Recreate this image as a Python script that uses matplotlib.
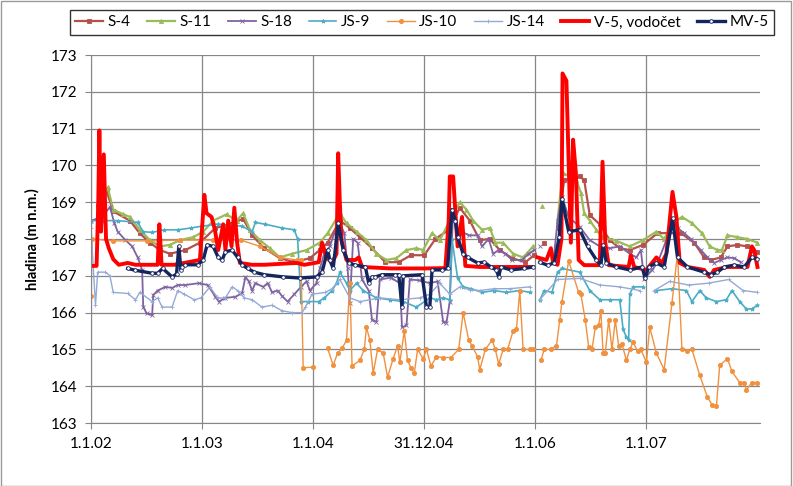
import numpy as np
import matplotlib
matplotlib.use("Agg")
import matplotlib.pyplot as plt
from matplotlib.patches import Rectangle

nan = np.nan
plt.rcParams["font.family"] = ["Lato", "DejaVu Sans"]

# time in decimal years, water level in m n.m.
s4_t = [2002.06, 2002.14, 2002.20, 2002.35, 2002.44, 2002.53, 2002.62, 2002.71, 2002.85, 2002.98,
        2003.12, 2003.25, 2003.37, 2003.45, 2003.56, 2003.70, 2003.83, 2003.97, 2004.06, 2004.13,
        2004.24, 2004.33, 2004.42, 2004.53, 2004.65, 2004.77, 2004.88, 2005.00, 2005.10, 2005.22,
        2005.32, 2005.41, 2005.50, 2005.59, 2005.68, 2005.79, 2005.91, 2005.99, 2006.03, 2006.08,
        2006.12, 2006.20, 2006.26, 2006.40, 2006.44, 2006.49, 2006.58, 2006.67, 2006.76, 2006.85,
        2006.97, 2007.10, 2007.31, 2007.43, 2007.52, 2007.58, 2007.67, 2007.73, 2007.82, 2007.91, 2008.00]
s4_h = [168.9, 169.3, 168.75, 168.5, 168.15, 167.9, 167.7, 167.6, 167.7, 167.9,
        168.3, 168.4, 168.55, 168.1, 167.75, 167.48, 167.37, 167.48, 167.7, 167.9,
        168.5, 168.3, 168.05, 167.75, 167.37, 167.37, 167.56, 167.56, 168.0, 168.25,
        168.85, 168.5, 167.97, 168.0, 167.7, 167.48, 167.37, 167.56, nan, 167.9,
        nan, 168.3, 169.6, 169.7, 169.6, 168.65, 168.4, 167.97, 167.75, 167.7,
        167.84, 168.16, 168.16, 167.9, 167.5, 167.43, 167.5, 167.8, 167.84, 167.8, 167.65]

s11_t = [2002.06, 2002.15, 2002.20, 2002.29, 2002.35, 2002.44, 2002.53, 2002.62, 2002.71, 2002.80,
         2002.92, 2003.01, 2003.10, 2003.22, 2003.31, 2003.37, 2003.43, 2003.52, 2003.61, 2003.70,
         2003.81, 2003.94, 2004.06, 2004.13, 2004.24, 2004.30, 2004.39, 2004.48, 2004.57, 2004.66,
         2004.75, 2004.84, 2004.93, 2004.99, 2005.07, 2005.14, 2005.23, 2005.32, 2005.38, 2005.44,
         2005.52, 2005.59, 2005.64, 2005.71, 2005.80, 2005.89, 2005.98, 2006.02, 2006.06, 2006.10,
         2006.20, 2006.245, 2006.37, 2006.41, 2006.44, 2006.49, 2006.55, 2006.60, 2006.73, 2006.85,
         2006.97, 2007.09, 2007.16, 2007.24, 2007.32, 2007.41, 2007.50, 2007.57, 2007.64, 2007.68,
         2007.73, 2007.82, 2007.91, 2008.00]
s11_h = [168.9, 169.4, 168.8, 168.67, 168.6, 168.25, 167.97, 167.8, 167.84, 167.97,
         168.05, 168.2, 168.5, 168.67, 168.5, 168.7, 168.25, 167.97, 167.75, 167.5,
         167.6, 167.7, 167.9, 168.16, 168.7, 168.43, 168.2, 167.97, 167.6, 167.43,
         167.48, 167.7, 167.75, 167.7, 168.16, 167.97, 168.5, 169.0, 168.8, 168.5,
         168.25, 168.3, 167.9, 167.9, 167.6, 167.5, 167.8, nan, 168.9, nan,
         168.5, 169.8, 169.6, 169.25, 168.7, 168.5, 168.25, 168.05, 167.95, 167.8,
         167.97, 168.2, 168.0, 168.43, 168.6, 168.43, 168.16, 167.8, 167.7, 167.7,
         168.1, 168.05, 168.0, 167.9]

s18_t = [2002.00, 2002.10, 2002.17, 2002.21, 2002.24, 2002.31, 2002.37, 2002.42, 2002.46, 2002.47,
         2002.50, 2002.55, 2002.56, 2002.60, 2002.67, 2002.73, 2002.78, 2002.85, 2002.97, 2003.05,
         2003.12, 2003.15, 2003.21, 2003.30, 2003.36, 2003.39, 2003.42, 2003.45, 2003.48, 2003.55,
         2003.59, 2003.63, 2003.68, 2003.72, 2003.77, 2003.83, 2003.89, 2003.94, 2003.97, 2004.03,
         2004.06, 2004.10, 2004.15, 2004.23, 2004.28, 2004.31, 2004.33, 2004.36, 2004.40, 2004.44,
         2004.50, 2004.53, 2004.57, 2004.60, 2004.70, 2004.78, 2004.80, 2004.84, 2004.87, 2004.95,
         2005.05, 2005.12, 2005.17, 2005.20, 2005.23, 2005.26, 2005.30, 2005.34, 2005.40, 2005.48,
         2005.52, 2005.58, 2005.62, 2005.67, 2005.73, 2005.79, 2005.88, 2005.94, 2005.99, 2006.02,
         2006.04, 2006.08, 2006.17, 2006.20, 2006.24, 2006.30, 2006.40, 2006.49, 2006.58, 2006.67,
         2006.76, 2006.85, 2006.91, 2006.95, 2006.98, 2007.05, 2007.10, 2007.19, 2007.235, 2007.28,
         2007.34, 2007.40, 2007.49, 2007.55, 2007.61, 2007.67, 2007.73, 2007.79, 2007.85]
s18_h = [168.5, 168.6, 168.87, 168.43, 168.2, 167.97, 167.8, 167.5, 167.16, 166.16,
         165.98, 165.93, 166.48, 166.6, 166.7, 166.67, 166.75, 166.75, 166.8, 166.75,
         166.43, 166.3, 166.4, 166.43, 166.53, 166.97, 166.85, 166.6, 166.8, 166.7,
         166.8, 166.55, 166.6, 166.45, 166.3, 166.5, 166.7, 166.85, 166.6, 166.8,
         167.2, 167.6, 167.8, 168.5, 168.16, 167.2, 166.26, 168.0, 167.9, 166.9,
         166.6, 165.8, 165.75, 166.9, 166.95, 166.8, 165.6, 165.65, 166.9, 166.88,
         166.8, 166.85, 165.75, 165.73, 166.3, 168.8, 168.3, 168.2, 168.1, 168.1,
         167.8, 168.0, 167.6, 167.7, 167.6, 167.43, 167.43, 167.6, 167.7, nan,
         167.8, nan, 167.6, 168.5, 169.15, 168.6, 168.33, 167.97, 167.8, 167.75,
         167.8, 167.6, 167.5, 167.7, 166.9, 167.16, 167.35, 168.05, 168.5, 168.3,
         168.16, 168.0, 167.7, 167.5, 167.35, 167.43, 167.5, 167.48, 167.37]

js9_t = [2002.00, 2002.10, 2002.24, 2002.42, 2002.47, 2002.55, 2002.66, 2002.78, 2002.90, 2003.00,
         2003.14, 2003.36, 2003.45, 2003.48, 2003.57, 2003.72, 2003.83, 2003.86, 2003.89, 2003.95,
         2004.05, 2004.10, 2004.17, 2004.21, 2004.24, 2004.30, 2004.33, 2004.39, 2004.45, 2004.57,
         2004.69, 2004.81, 2004.93, 2005.05, 2005.11, 2005.17, 2005.23, 2005.25, 2005.30, 2005.35,
         2005.42, 2005.52, 2005.63, 2005.74, 2005.86, 2005.95, 2005.99, 2006.04, 2006.08, 2006.15,
         2006.20, 2006.24, 2006.40, 2006.49, 2006.58, 2006.67, 2006.76, 2006.79, 2006.82, 2006.84,
         2006.85, 2006.88, 2006.97, 2007.04, 2007.09, 2007.23, 2007.36, 2007.41, 2007.48, 2007.54,
         2007.63, 2007.72, 2007.77, 2007.84, 2007.90, 2007.95, 2008.00]
js9_h = [168.5, 168.5, 168.5, 168.45, 168.2, 168.18, 168.25, 168.25, 168.3, 168.35,
         168.4, 168.35, 168.2, 168.45, 168.4, 168.3, 168.25, 168.0, 166.3, 166.3,
         166.3, 166.4, 166.6, 166.8, 167.1, 166.8, 166.6, 166.8, 166.6, 166.4,
         166.35, 166.3, 166.15, 166.4, 166.35, 166.4, 166.35, 168.0, 166.94, 166.7,
         166.65, 166.55, 166.6, 166.55, 166.6, 166.55, nan, 166.34, 166.6, 166.55,
         167.1, 167.2, 167.1, 166.6, 166.35, 166.35, 166.35, 165.55, 165.33, 165.25,
         166.5, 166.7, 166.7, nan, 166.6, 166.65, 166.6, 166.3, 166.6, 166.4,
         166.3, 166.35, 166.6, 166.3, 166.1, 166.1, 166.2]

js10_t = [2002.00, 2002.01, 2002.20, 2002.50, 2002.80, 2003.10, 2003.35, 2003.52, 2003.70, 2003.85,
          2003.89, 2003.91, 2004.00, 2004.06, 2004.13, 2004.18, 2004.22, 2004.26, 2004.30, 2004.33,
          2004.35, 2004.42, 2004.46, 2004.48, 2004.51, 2004.54, 2004.58, 2004.63, 2004.67, 2004.72,
          2004.76, 2004.78, 2004.82, 2004.85, 2004.88, 2004.91, 2004.94, 2004.99, 2005.02, 2005.06,
          2005.11, 2005.17, 2005.24, 2005.31, 2005.35, 2005.40, 2005.43, 2005.48, 2005.50, 2005.55,
          2005.61, 2005.64, 2005.67, 2005.71, 2005.75, 2005.80, 2005.83, 2005.86, 2005.89, 2005.95,
          2005.98, 2006.01, 2006.05, 2006.08, 2006.14, 2006.19, 2006.22, 2006.24, 2006.30, 2006.39,
          2006.41, 2006.45, 2006.48, 2006.51, 2006.54, 2006.57, 2006.59, 2006.61, 2006.63, 2006.66,
          2006.69, 2006.72, 2006.75, 2006.78, 2006.82, 2006.85, 2006.88, 2006.92, 2006.95, 2007.00,
          2007.03, 2007.09, 2007.16, 2007.23, 2007.28, 2007.32, 2007.37, 2007.41, 2007.48, 2007.55,
          2007.59, 2007.63, 2007.66, 2007.73, 2007.77, 2007.84, 2007.88, 2007.90, 2007.95, 2008.00]
js10_h = [166.45, 168.0, 167.95, 167.95, 167.97, 167.97, 167.97, 167.8, 167.5, 167.43,
          167.43, 164.5, 164.52, nan, 165.03, 164.57, 164.9, 165.03, 165.25, 166.8,
          164.55, 164.7, 165.0, 165.6, 165.26, 164.35, 165.0, 164.9, 164.25, 164.75,
          165.1, 164.65, 165.5, 164.7, 164.5, 164.35, 165.0, 164.75, 165.0, 164.55,
          164.8, 164.78, 164.78, 165.0, 166.0, 165.26, 165.1, 164.8, 164.45, 165.0,
          165.25, 165.0, 164.6, 165.0, 165.0, 165.5, 165.55, 166.6, 165.0, 165.0,
          165.0, nan, 164.7, 165.0, 165.0, 165.1, 165.8, 166.3, 167.4, 166.55,
          166.5, 165.8, 165.07, 165.0, 165.6, 165.65, 166.05, 164.9, 164.9, 165.8,
          165.0, 165.8, 165.1, 165.15, 164.7, 165.0, 165.2, 164.95, 165.0, 164.65,
          165.6, 164.9, 164.45, 166.26, 167.6, 165.0, 164.95, 165.0, 164.3, 163.7,
          163.5, 163.45, 164.57, 164.75, 164.4, 164.1, 164.1, 163.9, 164.1, 164.1]

js14_t = [2002.00, 2002.04, 2002.06, 2002.13, 2002.17, 2002.20, 2002.33, 2002.40, 2002.44, 2002.55,
          2002.60, 2002.64, 2002.73, 2002.78, 2002.84, 2002.93, 2002.99, 2003.07, 2003.14, 2003.21,
          2003.27, 2003.32, 2003.38, 2003.45, 2003.54, 2003.63, 2003.72, 2003.81, 2003.90, 2003.93,
          2003.99, 2004.11, 2004.17, 2004.24, 2004.33, 2004.42, 2004.60, 2004.78, 2004.96, 2005.05,
          2005.14, 2005.23, 2005.32, 2005.41, 2005.50, 2005.63, 2005.77, 2005.95, 2005.99, 2006.04,
          2006.20, 2006.40, 2006.58, 2006.76, 2006.94, 2007.00, 2007.07, 2007.21, 2007.38, 2007.56,
          2007.74, 2007.87, 2008.00]
js14_h = [168.3, 166.2, 167.1, 167.1, 167.0, 166.55, 166.52, 166.35, 166.55, 166.3,
          166.4, 166.15, 166.15, 166.6, 166.5, 166.35, 166.4, 166.7, 166.4, 166.4,
          166.7, 166.6, 166.4, 166.35, 166.15, 166.2, 166.05, 166.0, 166.0, 166.15,
          166.5, 166.55, 166.65, 166.9, 166.4, 166.3, 166.4, 166.35, 166.4, 166.5,
          166.8, 166.5, 166.7, 166.62, 166.6, 166.65, 166.65, 166.7, nan, 166.35,
          166.9, 166.93, 166.75, 166.7, 166.6, nan, 166.6, 166.85, 166.75, 166.8,
          166.9, 166.6, 166.55]

v5_t = [2002.00, 2002.05, 2002.065, 2002.075, 2002.09, 2002.115, 2002.135, 2002.16, 2002.20, 2002.25,
        2002.33, 2002.40, 2002.57, 2002.60, 2002.615, 2002.635, 2002.75, 2002.98, 2003.02, 2003.04,
        2003.085, 2003.115, 2003.145, 2003.19, 2003.21, 2003.235, 2003.265, 2003.29, 2003.315, 2003.34,
        2003.45, 2003.56, 2003.85, 2003.92, 2004.05, 2004.08, 2004.12, 2004.17, 2004.21, 2004.225,
        2004.24, 2004.255, 2004.30, 2004.38, 2004.41, 2004.44, 2004.70, 2005.00, 2005.19, 2005.22,
        2005.23, 2005.26, 2005.30, 2005.34, 2005.37, 2005.50, 2005.75, 2005.97, 2005.99, 2006.02,
        2006.10, 2006.14, 2006.16, 2006.20, 2006.235, 2006.245, 2006.28, 2006.32, 2006.34, 2006.365,
        2006.39, 2006.44, 2006.58, 2006.605, 2006.63, 2006.66, 2006.84, 2006.86, 2006.89, 2007.00,
        2007.09, 2007.14, 2007.18, 2007.235, 2007.27, 2007.30, 2007.37, 2007.52, 2007.57, 2007.61,
        2007.73, 2007.91, 2007.95, 2007.97, 2008.00]
v5_h = [167.27, 167.27, 169.0, 170.95, 168.2, 170.3, 168.0, 167.75, 167.45, 167.3,
        167.35, 167.3, 167.3, 167.3, 168.4, 167.3, 167.3, 167.43, 169.2, 168.7,
        168.6, 168.25, 167.7, 168.4, 167.7, 168.5, 167.8, 168.85, 167.9, 167.35,
        167.3, 167.3, 167.35, 167.3, 167.37, 167.9, 167.5, 167.35, 167.6, 170.33,
        169.0, 167.97, 167.43, 167.43, 167.5, 167.24, 167.2, 167.2, 167.21, 168.5,
        169.7, 169.7, 167.8, 168.6, 167.27, 167.24, 167.24, 167.24, nan, 167.5,
        167.43, 167.75, 167.35, 167.3, 168.0, 172.5, 172.3, 167.9, 170.7, 169.8,
        167.43, 167.29, 167.29, 170.1, 167.9, 167.29, 167.24, 167.56, 167.24, 167.16,
        167.5, 167.35, 167.6, 169.28, 168.6, 167.35, 167.24, 167.16, 166.97, 167.16,
        167.24, 167.24, 167.8, 167.7, 167.24]

mv5_t = [2002.33, 2002.40, 2002.55, 2002.60, 2002.645, 2002.73, 2002.77, 2002.79, 2002.81, 2002.82,
         2002.85, 2002.96, 2003.01, 2003.045, 2003.10, 2003.145, 2003.18, 2003.21, 2003.27, 2003.32,
         2003.36, 2003.41, 2003.47, 2003.56, 2003.73, 2003.88, 2004.03, 2004.08, 2004.13, 2004.15,
         2004.18, 2004.225, 2004.27, 2004.32, 2004.38, 2004.47, 2004.50, 2004.53, 2004.56, 2004.62,
         2004.74, 2004.77, 2004.80, 2004.81, 2004.98, 2005.02, 2005.05, 2005.07, 2005.16, 2005.21,
         2005.25, 2005.28, 2005.30, 2005.35, 2005.39, 2005.48, 2005.54, 2005.60, 2005.65, 2005.67,
         2005.69, 2005.78, 2005.90, 2005.98, 2006.01, 2006.04, 2006.11, 2006.17, 2006.215, 2006.24,
         2006.30, 2006.40, 2006.47, 2006.55, 2006.59, 2006.61, 2006.64, 2006.73, 2006.85, 2006.96,
         2006.99, 2007.02, 2007.09, 2007.16, 2007.235, 2007.28, 2007.37, 2007.52, 2007.58, 2007.64,
         2007.70, 2007.79, 2007.88, 2007.95, 2008.00]
mv5_h = [167.2, 167.15, 167.07, 167.07, 167.2, 166.97, 167.05, 167.8, 167.15, 167.25,
         167.3, 167.3, 167.43, 167.84, 167.8, 167.5, 167.43, 167.65, 167.7, 167.5,
         167.3, 167.2, 167.1, 167.03, 166.97, 166.94, 166.97, 167.1, 167.7, 167.43,
         167.2, 168.43, 167.7, 167.35, 167.29, 167.24, 166.8, 166.97, 166.97, 167.03,
         167.03, 167.03, 166.15, 167.0, 167.03, 166.15, 166.15, 167.16, 167.16, 167.2,
         168.8, 168.5, 168.05, 167.6, 167.5, 167.35, 167.37, 167.24, 167.16, 166.97,
         167.24, 167.16, 167.2, 167.24, nan, 167.37, 167.29, 167.35, 168.05, 169.1,
         168.2, 168.25, 167.8, 167.43, 167.29, 167.84, 167.35, 167.24, 167.16, 167.24,
         166.94, 167.24, 167.35, 167.24, 168.56, 167.5, 167.24, 167.1, 167.03, 167.1,
         167.24, 167.29, 167.24, 167.5, 167.45]

tick_pos = [2002, 2003, 2004, 2004.997, 2006, 2007]
tick_lab = ["1.1.02", "1.1.03", "1.1.04", "31.12.04", "1.1.06", "1.1.07"]

fig = plt.figure(figsize=(7.93, 4.86), dpi=100)
ax = fig.add_axes([0.1148, 0.1296, 0.958 - 0.1148, 0.8868 - 0.1296])

small = dict(markersize=3, markeredgewidth=0.6)
ax.plot(s4_t, s4_h, color="#B5504C", lw=1.6, marker="s", label="S-4", **small)
ax.plot(s11_t, s11_h, color="#9BBB59", lw=1.6, marker="^", label="S-11", **small)
ax.plot(s18_t, s18_h, color="#7F63A1", lw=1.3, marker="x", label="S-18", **small)
ax.plot(js9_t, js9_h, color="#4BACC6", lw=1.2, marker="*", label="JS-9", **small)
ax.plot(js10_t, js10_h, color="#F0913F", lw=1.0, marker="o", label="JS-10", **small)
ax.plot(js14_t, js14_h, color="#95A9D6", lw=1.0, marker="+", label="JS-14", **small)
ax.plot(v5_t, v5_h, color="#FF0000", lw=2.8, label="V-5, vodočet")
ax.plot(mv5_t, mv5_h, color="#14245C", lw=2.4, marker="o", markersize=2.6,
        markerfacecolor="white", markeredgecolor="#14245C", markeredgewidth=0.6, label="MV-5")

ax.set_xlim(2002, 2008.02)
ax.set_ylim(163, 173)
ax.set_yticks(range(163, 174))
ax.set_xticks(tick_pos)
ax.set_xticklabels(tick_lab)
ax.tick_params(labelsize=11, direction="out", length=4, color="#868686", pad=6)
ax.grid(True, color="#868686", lw=0.9)
ax.set_axisbelow(True)
for side in ["top", "right"]:
    ax.spines[side].set_visible(False)
for side in ["left", "bottom"]:
    ax.spines[side].set_color("#868686")
ax.set_ylabel("hladina (m n.m.)", fontsize=10.5, fontweight="bold", labelpad=8)

leg = fig.legend(loc="upper center", bbox_to_anchor=(0.532, 0.995), ncol=8, fontsize=11,
                 frameon=True, fancybox=False, edgecolor="black", handlelength=1.8,
                 handletextpad=0.3, columnspacing=1.1, borderpad=0.35)
leg.get_frame().set_linewidth(1.0)

fig.patches.append(Rectangle((0.001, 0.001), 0.997, 0.997, transform=fig.transFigure,
                             fill=False, edgecolor="#9a9a9a", lw=1))

fig.savefig("out.png", dpi=100)
